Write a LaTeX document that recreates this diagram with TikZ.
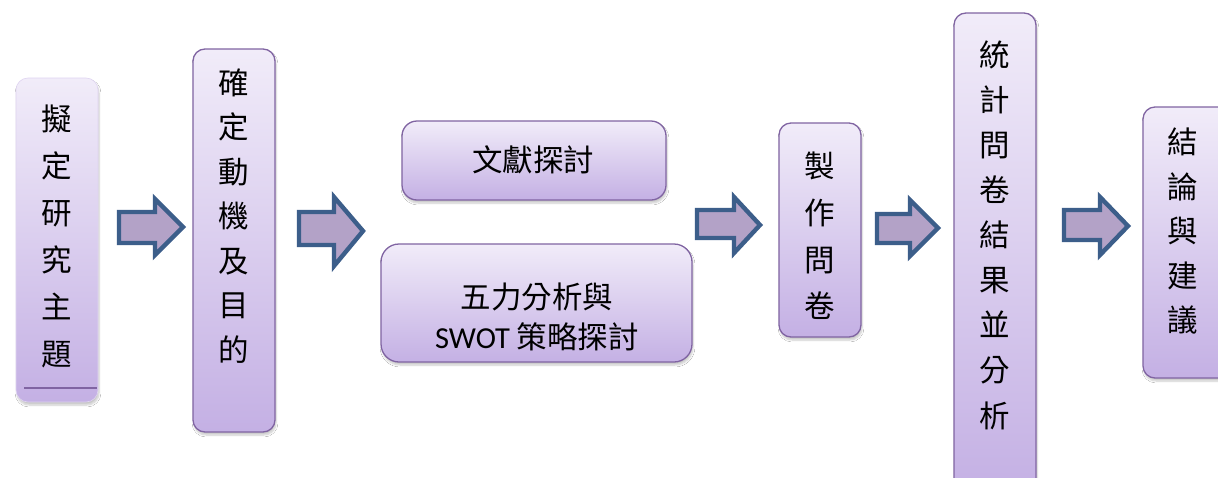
\documentclass[tikz,border=0pt]{standalone}
\usepackage{fontspec}
\setmainfont{Carlito}
\newfontfamily\cjk{Noto Sans CJK TC}
\newfontfamily\lat{Carlito}
\usetikzlibrary{shadows.blur}
\definecolor{boxtop}{HTML}{F1ECF9}
\definecolor{boxbot}{HTML}{C4B0E4}
\definecolor{boxline}{HTML}{8064A2}
\definecolor{arrfill}{HTML}{B3A2C7}
\definecolor{arrline}{HTML}{3C5E8A}
\tikzset{
  stagebox/.style={draw=boxline, line width=1.3pt, rounded corners=12pt,
    top color=boxtop, bottom color=boxbot,
    blur shadow={shadow xshift=1pt, shadow yshift=-3pt, shadow opacity=22, shadow blur steps=6}},
  softbox/.style={stagebox, draw=boxtop!60!boxbot, line width=0.6pt},
  vtext/.style={align=center, inner sep=0pt, text=black},
  htext/.style={align=center, inner sep=0pt, text=black, font=\cjk\fontsize{30.5}{40}\selectfont},
  blockarrow/.style={draw=arrline, fill=arrfill, line width=4.4pt, line join=miter, miter limit=3}
}
\begin{document}
\begin{tikzpicture}[x=1pt,y=-1pt]
\useasboundingbox (0,0) rectangle (1218,477);
\fill[white] (0,0) rectangle (1218,477);

% boxes
\path[softbox] (16,78) rectangle (98,402);
\coordinate (L1) at (24,388);
\coordinate (L2) at (97,388);
\draw[boxline, line width=1.6pt] (L1) -- (L2);
\path[stagebox] (193,49) rectangle (275,432);
\path[stagebox, rounded corners=15pt] (402,121) rectangle (666,200);
\path[stagebox, rounded corners=18pt] (381,244) rectangle (692,362);
\path[stagebox] (779,123) rectangle (861,337);
\path[stagebox] (954,13) rectangle (1036,492);
\path[stagebox] (1143,107) rectangle (1240,378);

% texts
\node[vtext, font=\cjk\fontsize{30.5}{47}\selectfont] (t1) at (57,236) {擬\\定\\研\\究\\主\\題};
\node[vtext, font=\cjk\fontsize{30.5}{44.5}\selectfont] (t2) at (234,216) {確\\定\\動\\機\\及\\目\\的};
\node[htext] (t3) at (533,160) {文獻探討};
\node[htext] (t4) at (537,317) {五力分析與\\{\lat SWOT} 策略探討};
\node[vtext, font=\cjk\fontsize{30.5}{46.7}\selectfont] (t5) at (820,236) {製\\作\\問\\卷};
\node[vtext, font=\cjk\fontsize{30.5}{45.1}\selectfont] (t6) at (995,235) {統\\計\\問\\卷\\結\\果\\並\\分\\析};
\node[vtext, font=\cjk\fontsize{30.5}{44.5}\selectfont] (t7) at (1183,231) {結\\論\\與\\建\\議};

% block arrows
\draw[blockarrow] (119,212) -- (155,212) -- (155,199) -- (183,227) -- (155,255) -- (155,243) -- (119,243) -- cycle;
\draw[blockarrow] (299,212) -- (334,212) -- (334,197) -- (363,231) -- (334,266) -- (334,245) -- (299,245) -- cycle;
\draw[blockarrow] (697,210) -- (734,210) -- (734,197) -- (760,225) -- (734,253) -- (734,238) -- (697,238) -- cycle;
\draw[blockarrow] (877,214) -- (910,214) -- (910,200) -- (938,228) -- (910,256) -- (910,243) -- (877,243) -- cycle;
\draw[blockarrow] (1064,210) -- (1100,210) -- (1100,197) -- (1128,226) -- (1100,255) -- (1100,240) -- (1064,240) -- cycle;
\end{tikzpicture}
\end{document}
